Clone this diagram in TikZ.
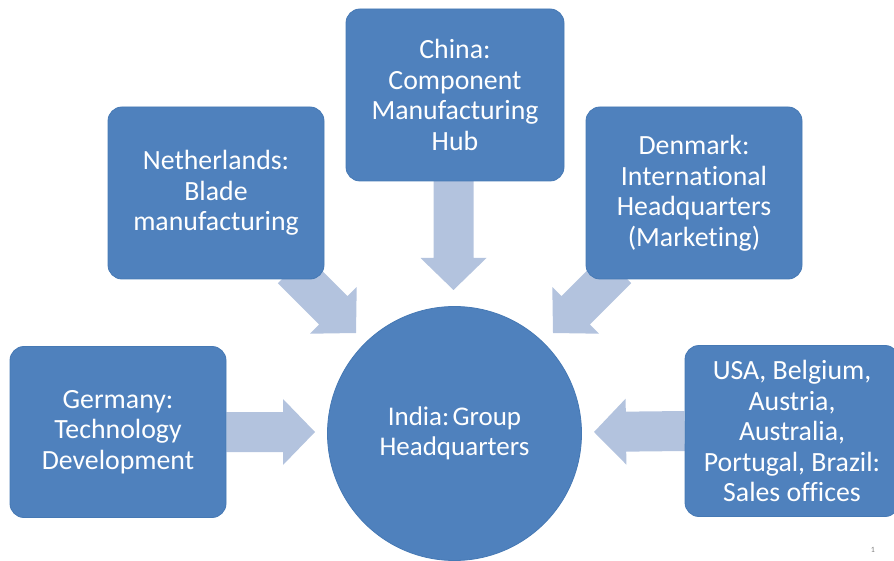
\documentclass[tikz,border=0pt]{standalone}
\usepackage{fontspec}
\setmainfont{Carlito}[Ligatures=NoCommon]
\usetikzlibrary{calc,backgrounds}
\definecolor{boxblue}{HTML}{4F81BD}
\definecolor{boxedge}{HTML}{4679B4}
\definecolor{arrowblue}{HTML}{B3C3DE}
\newcommand{\blockarrow}[2]{%
  \fill[arrowblue] let \p1=(#1), \p2=(#2),
    \n1={atan2(\y2-\y1,\x2-\x1)}, \n2={veclen(\x2-\x1,\y2-\y1)} in
    [shift={(\p1)}, rotate=\n1]
    (0,-20) -- ({\n2-32},-20) -- ({\n2-32},-33) -- ({\n2},0) --
    ({\n2-32},33) -- ({\n2-32},20) -- (0,20) -- cycle;}
\begin{document}
\begin{tikzpicture}[x=1pt,y=-1pt,
  box/.style={draw=boxedge, line width=0.8pt, fill=boxblue, rounded corners=14pt,
    text=white, align=center, inner sep=0pt,
    font=\fontsize{27.8}{30.5}\selectfont},
  hub/.style={draw=boxedge, line width=0.8pt, fill=boxblue, circle,
    text=white, align=center, inner sep=0pt,
    font=\fontsize{27}{30}\selectfont}]
\useasboundingbox (0,0) rectangle (894,561);

\node[box, minimum width=218pt, minimum height=172pt] (china) at (455,95)
  {China:\\Component\\Manufacturing\\Hub};
\node[box, minimum width=216pt, minimum height=172pt] (neth) at (216,193)
  {Netherlands:\\Blade\\manufacturing};
\node[box, minimum width=216pt, minimum height=172pt] (denm) at (694,193)
  {Denmark:\\International\\Headquarters\\(Marketing)};
\node[box, minimum width=216pt, minimum height=171pt] (germ) at (118,432)
  {Germany:\\Technology\\Development};
\node[box, minimum width=214pt, minimum height=171pt] (usa) at (792,431)
  {USA, Belgium,\\Austria,\\Australia,\\Portugal, Brazil:\\Sales offices};
\node[hub, minimum size=254pt] (india) at (454.5,433.5)
  {India:\hspace{0.12em}Group\\Headquarters};

\coordinate (tipN) at (453.5,290);
\coordinate (tipNW) at (356,333);
\coordinate (tipNE) at (553,333);
\coordinate (tipW) at (315,432);
\coordinate (tipE) at (594,432);
\coordinate (startNW) at (292,269);
\coordinate (startNE) at (617,269);

\begin{scope}[on background layer]
  \blockarrow{$(china.south)+(-1.5,-2)$}{tipN}
  \blockarrow{startNW}{tipNW}
  \blockarrow{startNE}{tipNE}
  \blockarrow{germ.east}{tipW}
  \blockarrow{usa.west}{tipE}
\end{scope}

\node[font=\fontsize{8}{9}\selectfont, text=gray] (pagenum) at (873,550) {1};
\end{tikzpicture}
\end{document}
